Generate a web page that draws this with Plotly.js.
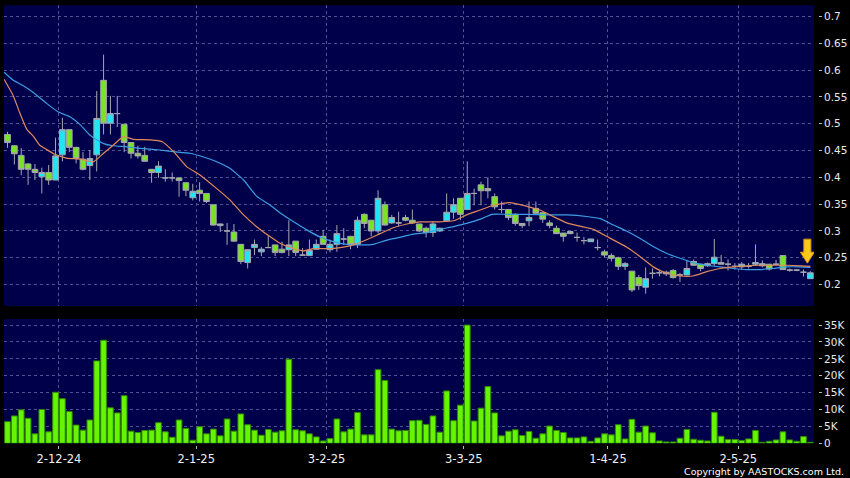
<!DOCTYPE html>
<html>
<head>
<meta charset="utf-8">
<script src="https://cdn.plot.ly/plotly-3.0.1.min.js"></script>
<style>html,body{margin:0;padding:0;background:#000;}#chart{width:850px;height:478px;}</style>
</head>
<body>
<div id="chart"></div>
<script>
// ---- data ----
const openP  = [.480,.459,.441,.425,.415,.401,.409,.395,.442,.489,.456,.434,.422,.442,.581,.501,.519,.499,.465,.445,
                .441,.415,.409,.399,.399,.399,.390,.362,.376,.370,.349,.310,.300,.298,.275,.241,.269,.261,.269,.274,
                .266,.265,.281,.255,.254,.266,.290,.265,.275,.285,.290,.275,.331,.320,.300,.349,.315,.315,.325,.320,
                .313,.305,.297,.300,.319,.335,.361,.340,.370,.386,.379,.364,.340,.340,.331,.314,.319,.342,.334,.315,
                .305,.296,.299,.288,.282,.280,.269,.261,.254,.250,.234,.225,.213,.195,.221,.222,.223,.226,.218,.218,
                .243,.238,.235,.239,.241,.238,.234,.233,.234,.238,.235,.238,.238,.254,.227,.227,.223,.211];
const highP  = [.485,.460,.455,.427,.425,.418,.423,.474,.511,.489,.456,.447,.451,.561,.629,.552,.552,.499,.465,.459,
                .457,.415,.430,.415,.409,.399,.390,.388,.391,.370,.349,.314,.315,.313,.275,.266,.284,.270,.292,.274,
                .280,.320,.281,.268,.284,.284,.302,.284,.311,.305,.290,.327,.333,.320,.376,.355,.330,.336,.330,.340,
                .313,.308,.318,.306,.370,.361,.361,.430,.379,.392,.400,.370,.355,.340,.333,.314,.355,.355,.334,.320,
                .310,.296,.299,.297,.289,.285,.284,.265,.258,.252,.242,.225,.218,.232,.230,.227,.226,.229,.222,.246,
                .247,.238,.241,.285,.255,.247,.240,.242,.240,.275,.245,.238,.246,.254,.230,.229,.228,.225];
const lowP   = [.455,.424,.404,.386,.395,.370,.386,.395,.430,.447,.426,.413,.395,.411,.480,.480,.494,.447,.435,.435,
                .430,.390,.399,.392,.392,.364,.365,.357,.355,.352,.310,.298,.274,.280,.238,.230,.255,.253,.269,.253,
                .258,.253,.253,.254,.254,.266,.275,.260,.261,.274,.266,.268,.305,.290,.295,.310,.313,.308,.318,.313,
                .298,.288,.289,.298,.319,.323,.320,.340,.348,.348,.361,.340,.333,.320,.310,.305,.309,.333,.315,.305,
                .295,.280,.295,.280,.275,.280,.264,.251,.243,.227,.227,.186,.190,.183,.211,.215,.216,.211,.205,.218,
                .236,.225,.233,.235,.238,.226,.228,.227,.230,.235,.232,.226,.236,.228,.224,.225,.215,.211];
const closeP = [.465,.444,.415,.415,.409,.409,.395,.440,.489,.456,.435,.415,.435,.510,.501,.519,.519,.465,.445,.440,
                .430,.409,.421,.399,.399,.394,.376,.374,.370,.355,.311,.313,.300,.281,.243,.265,.275,.266,.269,.260,
                .260,.274,.260,.255,.264,.275,.275,.275,.295,.285,.275,.320,.314,.300,.361,.311,.325,.315,.320,.315,
                .300,.297,.313,.305,.335,.349,.331,.370,.370,.375,.375,.345,.340,.325,.314,.310,.325,.333,.322,.310,
                .295,.290,.295,.288,.282,.285,.269,.255,.249,.234,.239,.190,.198,.211,.221,.222,.220,.213,.218,.230,
                .236,.230,.239,.251,.238,.238,.234,.238,.234,.241,.239,.229,.238,.228,.227,.227,.223,.222];
// volume, thousands of shares
const volumeK = [6.4,8.1,9.9,7.4,2.8,10.0,3.4,15.1,13.2,9.4,5.4,3.9,6.9,24.4,30.5,10.5,9.0,14.1,3.6,3.2,
                 3.8,3.9,6.1,3.4,1.8,6.9,4.4,0.9,4.9,2.8,4.2,2.2,7.2,3.6,8.7,5.5,3.9,2.4,4.1,3.3,
                 3.7,24.9,4.0,3.7,2.8,1.9,0.7,1.4,7.2,3.4,4.2,9.1,2.5,2.5,21.8,18.6,4.2,3.7,3.8,6.7,
                 6.8,5.6,8.1,3.3,15.5,6.7,11.3,35.0,6.6,10.4,16.8,9.0,2.2,3.6,4.0,2.3,3.5,1.5,2.8,5.1,
                 3.8,3.2,1.6,1.6,1.9,0.6,1.6,2.8,2.5,5.5,1.3,7.1,3.3,5.1,3.1,0.7,0.4,0.4,1.5,4.1,
                 1.2,0.9,0.7,9.2,2.1,1.1,1.1,0.8,1.3,3.8,0.3,0.6,1.0,3.4,1.0,0.6,2.0,0.3];
// moving averages (x = bar position)
const maShortX = [-0.5,0.85,1.8,2.8,3.8,4.7,5.7,6.9,8.6,10.6,12.5,14.0,15.4,16.9,18.3,20.8,22.5,24.2,26.1,28.1,
                  30.5,32.4,34.4,36.3,38.3,39.7,41.7,43.1,44.6,46.5,48.5,50.4,52.4,54.3,56.2,58.2,60.1,61.1,63.0,65.0,
                  66.9,68.9,70.8,73.2,75.7,77.6,79.5,81.5,83.4,85.4,87.3,90.2,92.2,94.1,96.1,98.0,99.9,101.9,103.8,105.8,
                  107.7,109.7,111.6,113.6,115.5,117];
const maShortY = [.583,.552,.520,.490,.476,.460,.452,.443,.436,.434,.429,.445,.460,.476,.471,.470,.467,.448,.420,.404,
                  .379,.358,.330,.308,.289,.277,.267,.263,.267,.267,.269,.274,.284,.295,.306,.313,.317,.317,.317,.319,
                  .330,.339,.348,.353,.346,.339,.327,.315,.309,.303,.290,.270,.252,.233,.221,.216,.216,.224,.230,.233,
                  .235,.236,.236,.236,.235,.234];
const maLongX  = [-0.5,0.85,2.3,3.8,5.7,7.4,9.1,10.6,12.0,13.0,14.0,15.4,17.4,19.3,22.2,24.2,26.6,28.6,30.5,32.4,
                  34.4,36.3,38.3,39.7,41.7,43.6,45.5,47.5,49.4,51.4,53.3,55.3,57.2,59.1,61.1,63.0,65.0,66.9,68.9,70.6,
                  72.8,75.7,78.6,81.5,84.4,86.4,88.3,90.2,92.2,94.1,96.1,98.0,99.9,101.9,103.8,105.8,107.7,109.7,111.6,113.6,
                  115.5,117];
const maLongY  = [.596,.581,.571,.558,.538,.522,.513,.498,.479,.470,.463,.459,.457,.454,.451,.448,.445,.438,.429,.417,
                  .395,.365,.348,.334,.317,.302,.289,.280,.275,.274,.275,.283,.288,.294,.297,.303,.308,.314,.322,.331,
                  .331,.331,.330,.330,.327,.323,.311,.300,.286,.271,.258,.249,.241,.236,.233,.230,.228,.228,.230,.233,
                  .233,.232];
const tickPos    = [7.5, 27.5, 46.5, 66.5, 87.5, 106.5];
const tickLabels = ['2-12-24','2-1-25','3-2-25','3-3-25','1-4-25','2-5-25'];
const volTickVals = [0,5,10,15,20,25,30,35];
const volTickText = ['0','5K','10K','15K','20K','25K','30K','35K'];

// ---- chart ----
const idx = openP.map((_, i) => i);
const last = idx.length - 1;
const W = 850, H = 478;
const xDom = [4/W, 814/W];
const gridCol = '#4e5290';
const tickFont = {family: 'DejaVu Sans', size: 10.5, color: '#e8e8e8'};

const traces = [
  {type: 'candlestick', x: idx, open: openP, high: highP, low: lowP, close: closeP,
   xaxis: 'x', yaxis: 'y', whiskerwidth: 0, hoverinfo: 'skip',
   increasing: {line: {color: '#a6a6b0', width: 1}, fillcolor: '#1fe6f5'},
   decreasing: {line: {color: '#a6a6b0', width: 1}, fillcolor: '#78e424'}},
  {type: 'scatter', mode: 'lines', x: maLongX, y: maLongY, xaxis: 'x', yaxis: 'y',
   line: {color: '#3c9fe6', width: 1.2, shape: 'spline', smoothing: 0.5}, hoverinfo: 'skip'},
  {type: 'scatter', mode: 'lines', x: maShortX, y: maShortY, xaxis: 'x', yaxis: 'y',
   line: {color: '#e08a5c', width: 1.2, shape: 'spline', smoothing: 0.5}, hoverinfo: 'skip'},
  {type: 'bar', x: idx, y: volumeK, xaxis: 'x2', yaxis: 'y2', width: 0.83,
   marker: {color: '#66f500', line: {color: '#2f8a00', width: 1}}, hoverinfo: 'skip'}
];

const layout = {
  width: W, height: H,
  margin: {l: 0, r: 0, t: 0, b: 0},
  paper_bgcolor: '#000000', plot_bgcolor: '#00004a',
  showlegend: false, boxgap: 0.17, boxgroupgap: 0,
  font: {family: 'DejaVu Sans', color: '#e8e8e8'},
  xaxis: {domain: xDom, anchor: 'y', range: [-0.51, 117.53], fixedrange: true,
          tickmode: 'array', tickvals: tickPos, ticktext: tickLabels, showticklabels: false, ticks: '',
          showgrid: true, gridcolor: gridCol, gridwidth: 1, griddash: '3px,3px',
          zeroline: false, showline: false, rangeslider: {visible: false}},
  yaxis: {domain: [(H-306)/H, (H-5.3)/H], range: [0.16, 0.721], anchor: 'free', position: 818/W, side: 'right',
          tick0: 0.2, dtick: 0.05, ticks: 'outside', ticklen: 3, tickcolor: '#bbbbbb', tickfont: tickFont,
          showgrid: true, gridcolor: gridCol, griddash: '3px,3px', zeroline: false, showline: false},
  xaxis2: {domain: xDom, matches: 'x', anchor: 'free', position: (H-445)/H,
           tickmode: 'array', tickvals: tickPos, ticktext: tickLabels, ticks: 'outside', ticklen: 3,
           tickcolor: '#bbbbbb', tickfont: {family: 'DejaVu Sans', size: 11.5, color: '#f0f0f0'},
           showgrid: true, gridcolor: gridCol, griddash: '3px,3px', zeroline: false, showline: false},
  yaxis2: {domain: [(H-443.3)/H, (H-319)/H], range: [0, 36.8], anchor: 'free', position: 818/W, side: 'right',
           tickmode: 'array', tickvals: volTickVals, ticktext: volTickText,
           ticks: 'outside', ticklen: 3, tickcolor: '#bbbbbb', tickfont: tickFont,
           showgrid: true, gridcolor: gridCol, griddash: '3px,3px', zeroline: false, showline: false},
  annotations: [{text: 'Copyright by AASTOCKS.com Ltd.', xref: 'paper', yref: 'paper',
                 x: 846/W, y: (H-471.5)/H, xanchor: 'right', yanchor: 'middle', showarrow: false,
                 font: {family: 'DejaVu Sans', size: 9.5, color: '#ffffff'}}],
  shapes: [{type: 'path', xref: 'x', yref: 'y', xsizemode: 'pixel', ysizemode: 'pixel',
            xanchor: last, yanchor: highP[last],
            path: 'M -3,8 L -10,19 L -6.5,19 L -6.5,32 L 0.5,32 L 0.5,19 L 4,19 Z',
            fillcolor: '#f8c81c', line: {color: '#d99a00', width: 1}}]
};

Plotly.newPlot('chart', traces, layout, {staticPlot: true, displayModeBar: false});
</script>
</body>
</html>
